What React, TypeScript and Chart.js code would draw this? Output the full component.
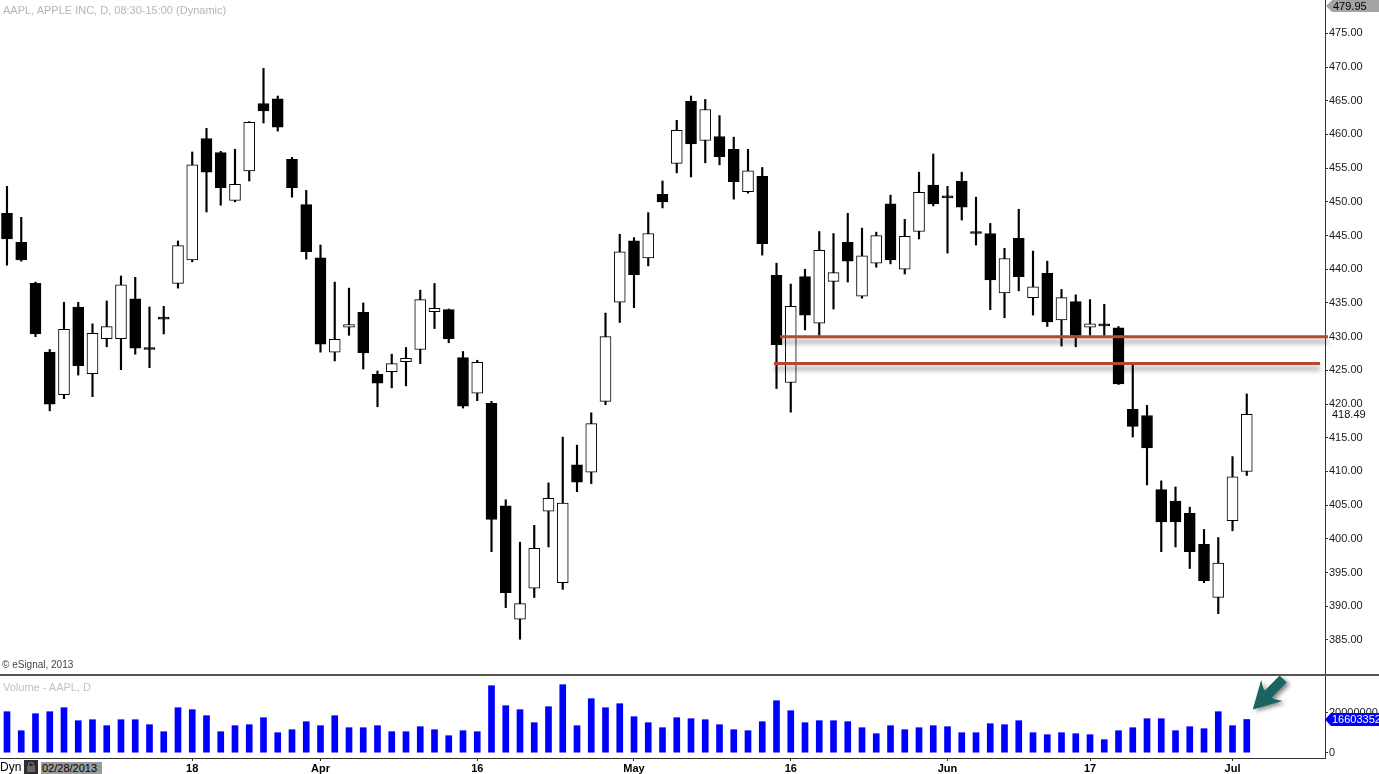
import React, { useEffect, useRef } from 'react';
import { Chart, registerables } from 'chart.js';

Chart.register(...registerables);

const FONT = '"Liberation Sans", Arial, Helvetica, sans-serif';

// AAPL daily, 2013-02-27 .. 2013-07-02
const opens = [
  448.3, 444.0, 437.9, 427.7, 421.4, 434.4, 424.5, 429.7, 429.7, 435.6,
  428.1, 432.6, 437.9, 441.4, 459.4, 457.3, 450.2, 454.6, 464.6, 465.3,
  456.3, 449.6, 441.7, 427.7, 431.4, 433.6, 424.4, 424.8, 426.3, 428.1,
  433.7, 434.0, 426.9, 421.6, 420.1, 404.9, 388.1, 392.7, 404.1, 393.5,
  411.0, 409.9, 420.4, 435.1, 444.2, 441.7, 451.1, 455.7, 464.9, 459.1,
  459.7, 457.8, 451.5, 453.8, 439.1, 423.2, 438.9, 432.0, 438.2, 444.0,
  436.0, 440.9, 449.7, 440.0, 445.6, 452.5, 450.6, 453.1, 445.3, 445.3,
  436.5, 444.6, 435.8, 439.4, 432.5, 435.2, 431.4, 431.6, 431.3, 419.2,
  418.3, 407.3, 405.6, 403.8, 399.2, 391.3, 402.7, 410.0,
];
const highs = [
  452.3, 447.7, 438.1, 428.1, 435.1, 435.1, 431.9, 435.3, 439.0, 438.8,
  434.4, 434.5, 444.2, 457.4, 460.9, 457.5, 457.8, 461.9, 469.8, 465.7,
  456.6, 451.7, 443.6, 438.1, 437.2, 435.0, 424.9, 427.4, 428.4, 436.9,
  437.9, 434.1, 427.8, 426.5, 420.4, 405.8, 399.5, 402.0, 408.3, 415.1,
  413.9, 418.7, 433.5, 445.2, 444.7, 448.4, 453.1, 462.1, 465.7, 465.2,
  462.8, 459.6, 457.8, 455.1, 440.9, 437.8, 440.0, 445.6, 445.3, 448.3,
  446.1, 445.5, 451.0, 447.4, 454.4, 457.1, 452.3, 454.4, 450.7, 446.8,
  443.1, 448.9, 442.7, 441.2, 437.0, 436.2, 435.5, 434.8, 431.5, 425.8,
  419.8, 408.6, 407.7, 404.7, 401.4, 400.2, 412.2, 421.5,
];
const lows = [
  440.6, 441.2, 430.0, 419.0, 420.8, 424.3, 421.1, 428.5, 425.1, 427.4,
  425.4, 430.4, 437.2, 441.1, 448.5, 449.5, 450.0, 453.1, 461.7, 460.5,
  450.7, 441.5, 427.7, 426.4, 430.2, 425.2, 419.6, 422.4, 422.7, 426.0,
  431.2, 429.1, 419.4, 420.5, 398.1, 389.8, 385.1, 391.3, 398.8, 392.5,
  407.0, 408.2, 419.9, 432.1, 434.3, 440.5, 449.1, 454.3, 453.7, 455.8,
  455.5, 450.4, 451.3, 442.1, 422.3, 418.8, 431.0, 430.2, 434.1, 438.1,
  435.7, 440.3, 440.8, 439.3, 444.5, 449.4, 442.4, 447.3, 443.6, 434.0,
  432.8, 436.8, 433.2, 431.5, 428.6, 428.5, 430.2, 430.2, 422.9, 415.1,
  408.0, 398.1, 398.8, 395.6, 393.5, 388.9, 401.2, 409.4,
];
const closes = [
  444.5, 441.4, 430.4, 420.0, 431.1, 425.7, 430.5, 431.5, 437.7, 428.3,
  428.1, 432.6, 443.5, 455.5, 454.4, 452.1, 452.6, 461.8, 463.5, 461.1,
  452.1, 442.6, 428.9, 429.6, 431.8, 427.6, 423.1, 426.0, 426.8, 435.5,
  434.2, 429.7, 419.7, 426.2, 402.9, 392.0, 390.4, 398.6, 406.0, 405.3,
  408.4, 417.1, 430.0, 442.6, 439.2, 445.3, 450.0, 460.6, 458.6, 463.7,
  456.7, 453.0, 454.6, 443.8, 428.8, 434.5, 433.2, 442.8, 439.5, 441.2,
  442.0, 445.0, 441.4, 444.9, 451.4, 449.7, 450.6, 449.2, 445.3, 438.4,
  441.6, 438.9, 437.4, 432.2, 435.8, 430.2, 431.9, 431.6, 423.0, 416.7,
  413.5, 402.5, 402.5, 398.1, 393.8, 396.4, 409.2, 418.49,
];
// volume in millions of shares
const volumeMillions = [
  20.5, 11.0, 19.5, 20.5, 22.5, 16.0, 16.5, 13.5, 16.5, 16.5,
  14.0, 10.5, 22.5, 21.5, 18.5, 10.5, 13.5, 14.0, 17.5, 10.0,
  11.5, 15.5, 13.5, 18.5, 12.5, 12.5, 13.5, 10.5, 10.5, 13.0,
  11.5, 8.5, 11.0, 10.5, 33.5, 23.5, 21.5, 15.0, 23.0, 34.0,
  13.5, 27.0, 22.5, 24.5, 18.0, 15.0, 12.5, 17.5, 17.0, 16.5,
  14.0, 11.5, 11.0, 15.5, 26.0, 21.0, 15.0, 16.0, 16.0, 15.5,
  12.5, 9.5, 13.5, 11.5, 12.5, 13.5, 13.0, 10.0, 10.0, 14.5,
  14.0, 16.0, 10.0, 9.0, 10.0, 9.5, 9.0, 6.5, 11.0, 12.5,
  17.0, 17.0, 11.0, 13.0, 12.0, 20.5, 13.5, 16.603352,
];

const xTickIndex = [13, 22, 33, 44, 55, 66, 76, 86];
const xTickLabels = ['18', 'Apr', '16', 'May', '16', 'Jun', '17', 'Jul'];
const priceTicks = [385, 390, 395, 400, 405, 410, 415, 420, 425, 430, 435, 440, 445, 450, 455, 460, 465, 470, 475];
const volumeTicks = [0, 20];
const volumeTickLabels = ['0', '20000000'];
const levelPrices = [430, 426];
const levelFrom = [54.25, 53.82];
const levelTo = [92.7, 92.14];
const priceAxisTop = 479.95;

const X_MIN = -0.49;
const X_MAX = 92.49;
const PRICE_MIN = 379.8;
const PRICE_MAX = 479.95;
const VOL_MIN = -2.65;
const VOL_MAX = 38.35;
const AXIS_W = 54;
const W = 1379;

const indices = opens.map((_, i) => i);

const lineShadowPlugin = {
  id: 'lineShadow',
  beforeDatasetDraw(chart: any, args: any) {
    const ds = chart.data.datasets[args.index];
    if (ds.type === 'line') {
      const c = chart.ctx;
      c.save();
      c.shadowColor = 'rgba(0,0,0,0.42)';
      c.shadowBlur = 5;
      c.shadowOffsetY = 5;
    }
  },
  afterDatasetDraw(chart: any, args: any) {
    const ds = chart.data.datasets[args.index];
    if (ds.type === 'line') chart.ctx.restore();
  },
};

const priceLabelsPlugin = {
  id: 'priceLabels',
  afterDraw(chart: any) {
    const c = chart.ctx;
    const ys = chart.scales.y;
    const right = chart.chartArea.right;
    c.save();
    // top box
    const ty = Math.max(ys.getPixelForValue(priceAxisTop), 6);
    c.fillStyle = '#a4a4a4';
    c.beginPath();
    c.moveTo(right + 1, ty);
    c.lineTo(right + 7, ty - 6);
    c.lineTo(W, ty - 6);
    c.lineTo(W, ty + 6);
    c.lineTo(right + 7, ty + 6);
    c.closePath();
    c.fill();
    c.fillStyle = '#000';
    c.font = `11px ${FONT}`;
    c.textBaseline = 'middle';
    c.fillText(priceAxisTop.toFixed(2), right + 8, ty + 0.5);
    // last close
    const last = closes[closes.length - 1];
    const ly = ys.getPixelForValue(last);
    c.fillStyle = '#111';
    c.fillText(last.toFixed(2), right + 7, ly + 0.5);
    c.restore();
  },
};

const volumePlugin = {
  id: 'volumeExtras',
  afterDraw(chart: any) {
    const c = chart.ctx;
    const xs = chart.scales.x;
    const ys = chart.scales.y;
    const right = chart.chartArea.right;
    const n = volumeMillions.length - 1;
    const lastVol = volumeMillions[n];
    c.save();
    // blue last-volume box
    const by = ys.getPixelForValue(lastVol);
    c.fillStyle = '#0000ff';
    c.beginPath();
    c.moveTo(right, by);
    c.lineTo(right + 6, by - 6.5);
    c.lineTo(W, by - 6.5);
    c.lineTo(W, by + 6.5);
    c.lineTo(right + 6, by + 6.5);
    c.closePath();
    c.fill();
    c.fillStyle = '#fff';
    c.font = `11px ${FONT}`;
    c.textBaseline = 'middle';
    c.fillText(String(Math.round(lastVol * 1e6)), right + 7, by + 0.5);
    // teal arrow pointing to last volume bar
    const tipX = xs.getPixelForValue(n) + 6;
    const tipY = ys.getPixelForValue(lastVol) - 10;
    c.translate(tipX, tipY);
    c.rotate((3 * Math.PI) / 4);
    c.shadowColor = 'rgba(0,0,0,0.45)';
    c.shadowBlur = 4;
    c.shadowOffsetX = 3;
    c.shadowOffsetY = 2;
    c.fillStyle = '#1c6464';
    c.beginPath();
    c.moveTo(0, 0);
    c.lineTo(-27, -15);
    c.quadraticCurveTo(-22, -8, -22, -5);
    c.lineTo(-43, -5);
    c.lineTo(-43, 5);
    c.lineTo(-22, 5);
    c.quadraticCurveTo(-22, 8, -27, 15);
    c.closePath();
    c.fill();
    c.restore();
  },
};

export default function App() {
  const topRef = useRef<HTMLCanvasElement | null>(null);
  const volRef = useRef<HTMLCanvasElement | null>(null);

  useEffect(() => {
    const top = new Chart(topRef.current as HTMLCanvasElement, {
      type: 'bar',
      data: {
        datasets: [
          ...levelPrices.map((p, k) => ({
            type: 'line' as const,
            data: [
              { x: levelFrom[k], y: p },
              { x: levelTo[k], y: p },
            ],
            borderColor: '#b8472f',
            borderWidth: 3,
            pointRadius: 0,
            borderCapStyle: 'butt' as const,
            order: 0,
            clip: false as any,
          })),
          {
            type: 'bar' as const,
            data: indices.map((i) => ({
              x: i,
              y: [Math.min(opens[i], closes[i]), Math.max(opens[i], closes[i])],
            })) as any,
            backgroundColor: indices.map((i) => (closes[i] > opens[i] ? '#ffffff' : '#000000')),
            borderColor: '#000000',
            borderWidth: 1,
            borderSkipped: false,
            barThickness: 11,
            minBarLength: 2,
            grouped: false,
            order: 1,
          },
          {
            type: 'bar' as const,
            data: indices.map((i) => ({ x: i, y: [lows[i], highs[i]] })) as any,
            backgroundColor: '#000000',
            borderWidth: 0,
            barThickness: 1.5,
            grouped: false,
            order: 2,
          },
        ],
      } as any,
      options: {
        responsive: false,
        animation: false,
        events: [],
        layout: { padding: 0, autoPadding: false },
        plugins: { legend: { display: false }, tooltip: { enabled: false } },
        scales: {
          x: {
            type: 'linear',
            min: X_MIN,
            max: X_MAX,
            display: false,
            offset: false,
            grid: { offset: false },
          },
          y: {
            type: 'linear',
            position: 'right',
            min: PRICE_MIN,
            max: PRICE_MAX,
            afterFit: (s: any) => {
              s.width = AXIS_W;
              s.paddingTop = 0;
              s.paddingBottom = 0;
            },
            afterBuildTicks: (s: any) => {
              s.ticks = priceTicks.map((v) => ({ value: v }));
            },
            ticks: {
              callback: (v: any) => Number(v).toFixed(2),
              font: { family: FONT, size: 11 },
              color: '#1a1a1a',
              padding: 1,
              autoSkip: false,
            },
            grid: { drawOnChartArea: false, tickLength: 3, color: '#333' },
            border: { color: '#333', width: 1 },
          },
        },
      } as any,
      plugins: [lineShadowPlugin, priceLabelsPlugin],
    });

    const vol = new Chart(volRef.current as HTMLCanvasElement, {
      type: 'bar',
      data: {
        datasets: [
          {
            data: indices.map((i) => ({ x: i, y: volumeMillions[i] })) as any,
            backgroundColor: '#0000ff',
            borderWidth: 0,
            barThickness: 6,
            grouped: false,
          },
        ],
      },
      options: {
        responsive: false,
        animation: false,
        events: [],
        layout: { padding: 0, autoPadding: false },
        plugins: { legend: { display: false }, tooltip: { enabled: false } },
        scales: {
          x: {
            type: 'linear',
            min: X_MIN,
            max: X_MAX,
            offset: false,
            afterBuildTicks: (s: any) => {
              s.ticks = xTickIndex.map((v) => ({ value: v }));
            },
            afterFit: (s: any) => {
              s.height = 16;
              s.paddingLeft = 0;
              s.paddingRight = 0;
            },
            ticks: {
              callback: (_v: any, i: number) => xTickLabels[i],
              font: { family: FONT, size: 11, weight: 'bold' },
              color: '#000',
              padding: 1,
              maxRotation: 0,
              autoSkip: false,
            },
            grid: { drawOnChartArea: false, tickLength: 3, color: '#333', offset: false },
            border: { color: '#333', width: 1 },
          },
          y: {
            type: 'linear',
            position: 'right',
            min: VOL_MIN,
            max: VOL_MAX,
            afterFit: (s: any) => {
              s.width = AXIS_W;
              s.paddingTop = 0;
              s.paddingBottom = 0;
            },
            afterBuildTicks: (s: any) => {
              s.ticks = volumeTicks.map((v) => ({ value: v }));
            },
            ticks: {
              callback: (_v: any, i: number) => volumeTickLabels[i],
              font: { family: FONT, size: 11 },
              color: '#1a1a1a',
              padding: 1,
              autoSkip: false,
            },
            grid: { drawOnChartArea: false, tickLength: 3, color: '#333' },
            border: { color: '#333', width: 1 },
          },
        },
      } as any,
      plugins: [volumePlugin],
    });

    return () => {
      top.destroy();
      vol.destroy();
    };
  }, []);

  const txt = (extra: any) => ({
    position: 'absolute' as const,
    whiteSpace: 'nowrap' as const,
    fontFamily: FONT,
    ...extra,
  });

  return (
    <div
      style={{
        position: 'fixed',
        left: 0,
        top: 0,
        width: W,
        height: 774,
        background: '#ffffff',
        overflow: 'hidden',
      }}
    >
      <canvas
        ref={topRef}
        width={W}
        height={675}
        style={{ position: 'absolute', left: 0, top: 0, width: W, height: 675 }}
      />
      <div style={{ position: 'absolute', left: 0, top: 674, width: W, height: 2, background: '#555' }} />
      <canvas
        ref={volRef}
        width={W}
        height={98}
        style={{ position: 'absolute', left: 0, top: 676, width: W, height: 98 }}
      />
      <div style={txt({ left: 3, top: 4, fontSize: 11, lineHeight: '13px', color: '#b6b6b6' })}>
        AAPL, APPLE INC, D, 08:30-15:00 (Dynamic)
      </div>
      <div style={txt({ left: 2, top: 659, fontSize: 10, lineHeight: '12px', color: '#444' })}>
        © eSignal, 2013
      </div>
      <div style={txt({ left: 3, top: 681, fontSize: 11, lineHeight: '13px', color: '#c2c2c2' })}>
        Volume - AAPL, D
      </div>
      <div style={txt({ left: 0, top: 761, fontSize: 12, lineHeight: '13px', color: '#000' })}>Dyn</div>
      <div style={{ position: 'absolute', left: 24, top: 760, width: 14, height: 14, background: '#2e2e2e' }}>
        <div
          style={{
            position: 'absolute',
            left: 4,
            top: 2,
            width: 4,
            height: 4,
            border: '1px solid #777',
            borderBottom: 'none',
            borderRadius: '3px 3px 0 0',
          }}
        />
        <div style={{ position: 'absolute', left: 3, top: 6, width: 8, height: 6, background: '#666' }} />
      </div>
      <div
        style={txt({
          left: 41,
          top: 762,
          width: 60,
          height: 12,
          background: '#9b9b9b',
          fontSize: 11,
          lineHeight: '13px',
          color: '#000',
          paddingLeft: 1,
        })}
      >
        02/28/2013
      </div>
    </div>
  );
}
